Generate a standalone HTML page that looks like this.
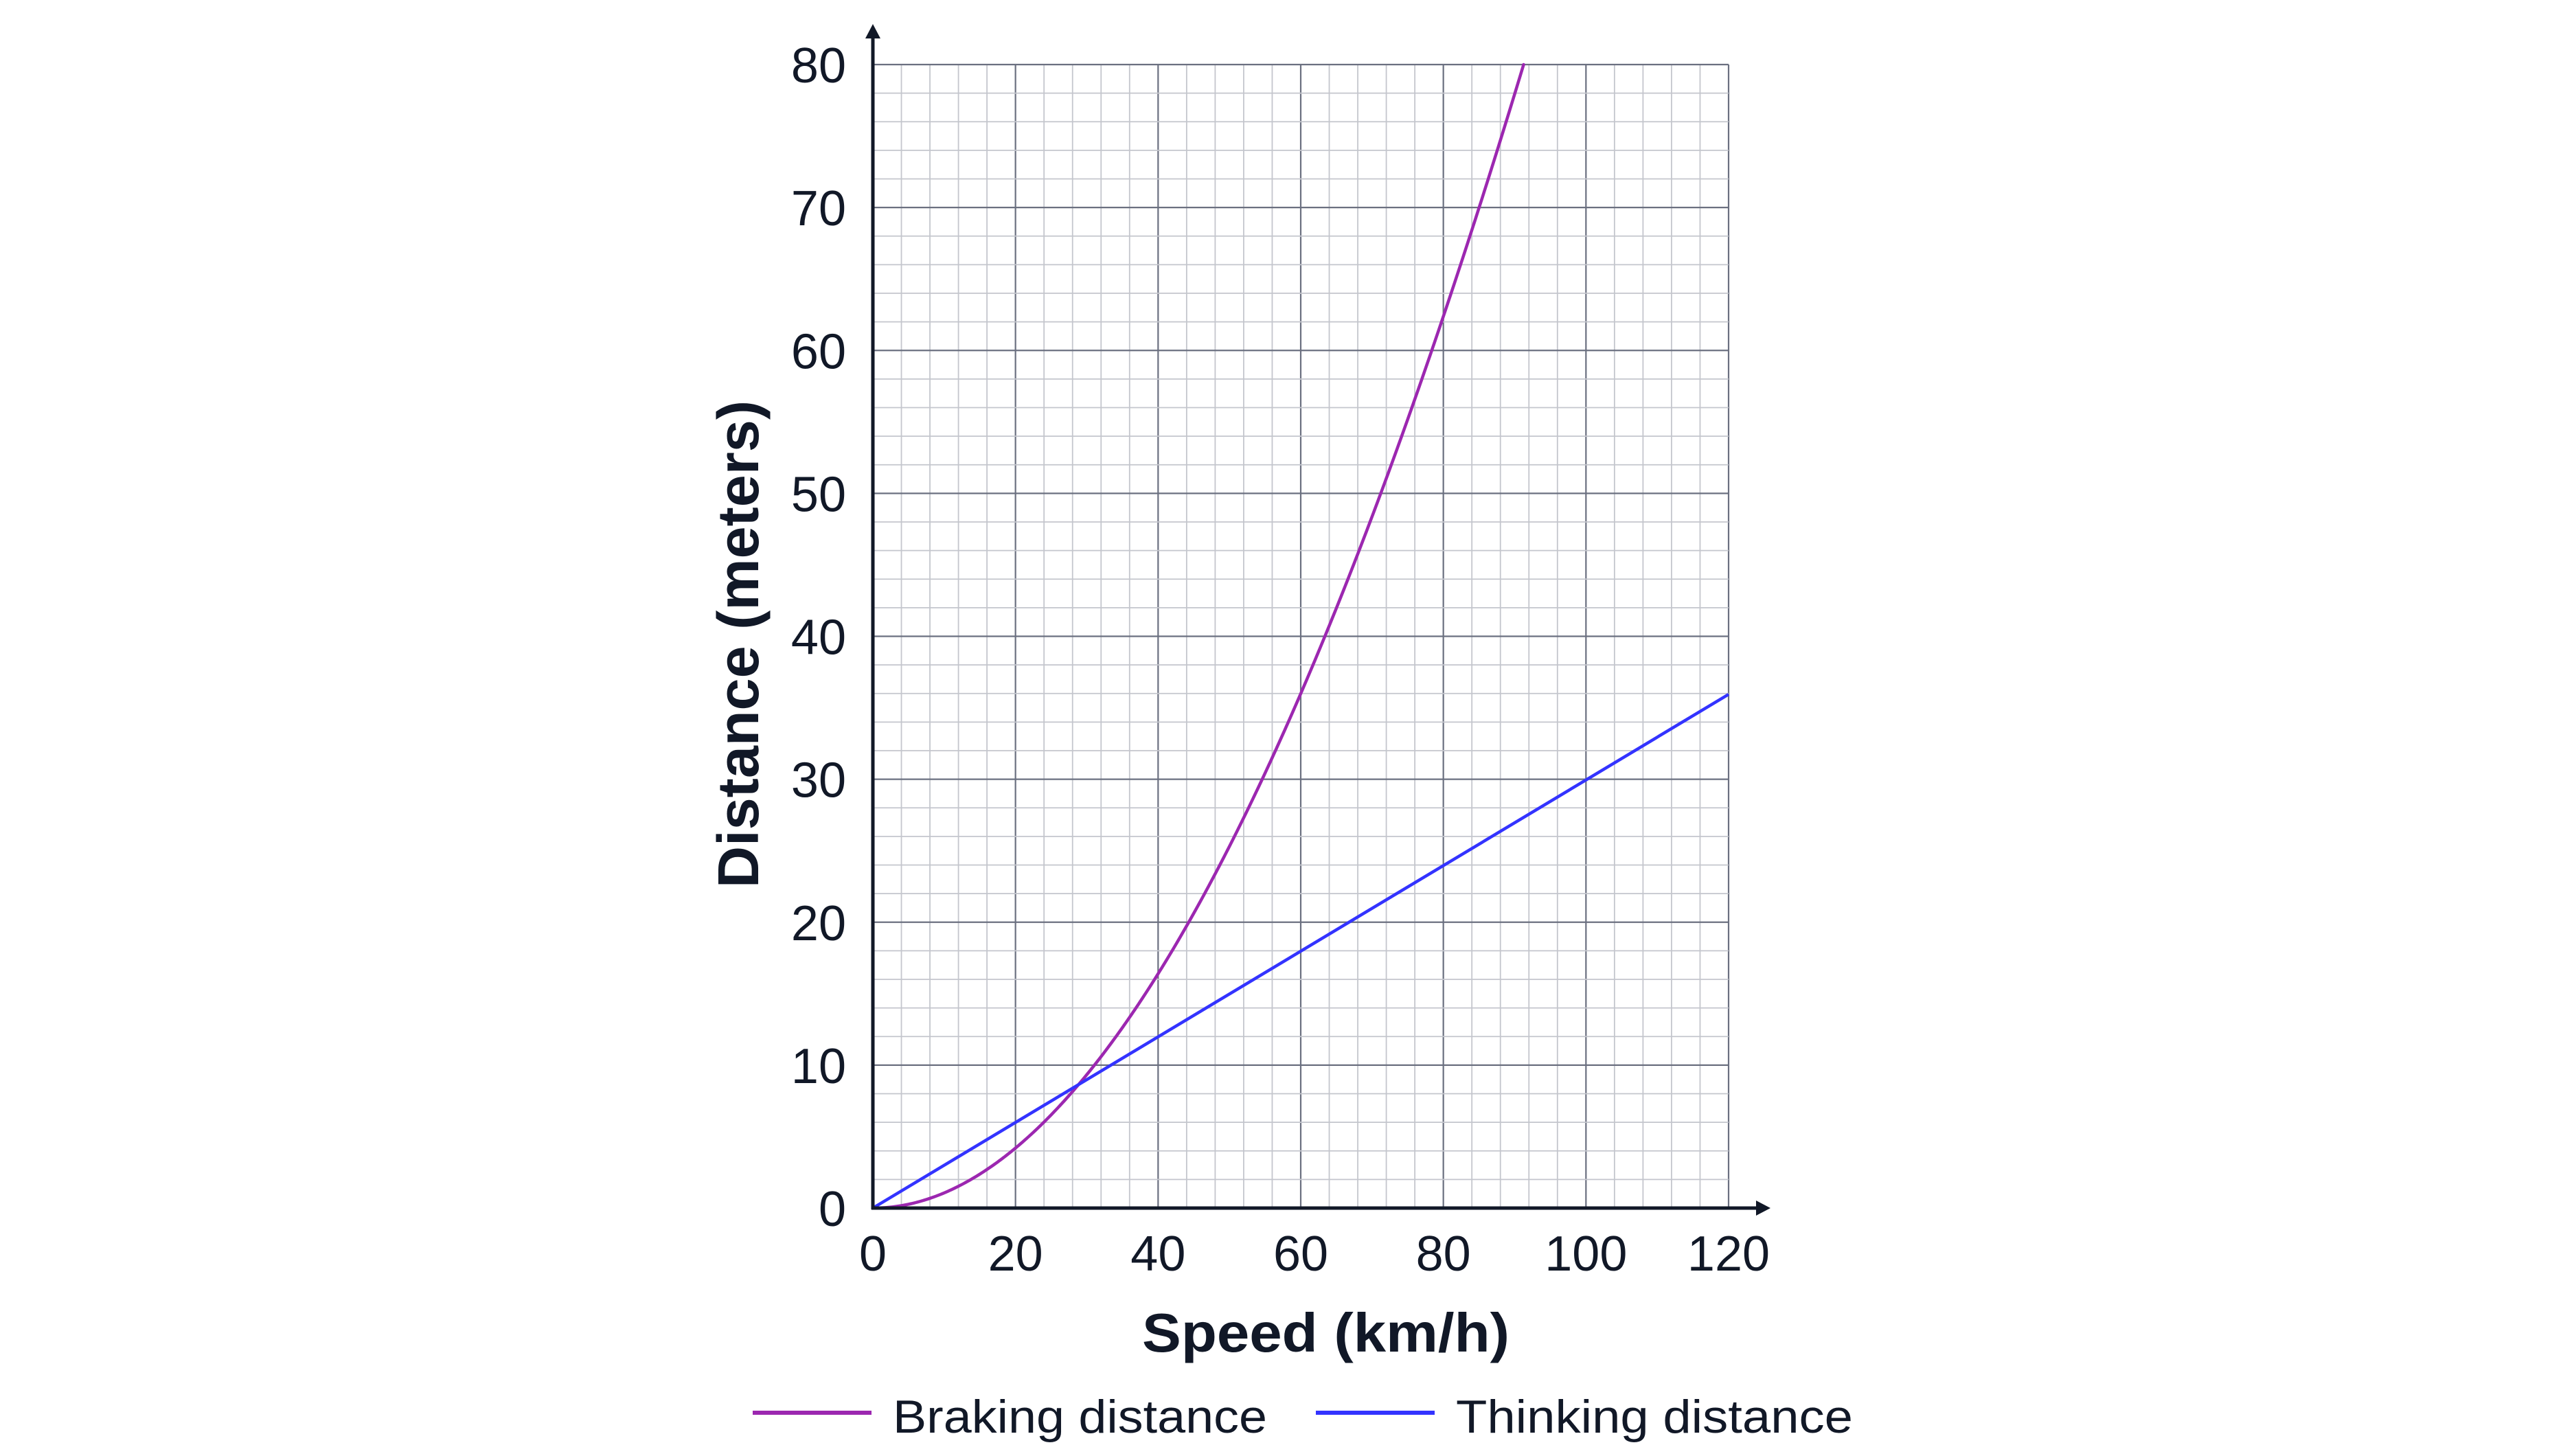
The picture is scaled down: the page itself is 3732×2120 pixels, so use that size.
<!DOCTYPE html>
<html><head><meta charset="utf-8"><style>html,body{margin:0;padding:0;background:#fff}svg{display:block}</style></head>
<body>
<svg id="s" width="3732" height="2120" viewBox="0 0 3732 2120" xmlns="http://www.w3.org/2000/svg" font-family="Liberation Sans, sans-serif" fill="#111827">
<g id="grid"></g>
<path id="brake" fill="none" stroke="#9c27b0" stroke-width="4.5" stroke-linecap="round"/>
<line x1="1271" y1="1759" x2="2517" y2="1011" stroke="#3333ff" stroke-width="4.5"/>
<line x1="1271" y1="1761" x2="1271" y2="50" stroke="#111827" stroke-width="5"/>
<polygon points="1271,35 1260,56 1282,56" fill="#111827"/>
<line x1="1269" y1="1759" x2="2562" y2="1759" stroke="#111827" stroke-width="5"/>
<polygon points="2578,1759 2557,1748 2557,1770" fill="#111827"/>
<g font-size="72" text-anchor="end" id="yl"></g>
<g font-size="72" text-anchor="middle" id="xl"></g>
<text x="1663" y="1968" font-size="80" font-weight="bold" textLength="535" lengthAdjust="spacingAndGlyphs">Speed (km/h)</text>
<text transform="translate(1104,1293) rotate(-90)" font-size="84" font-weight="bold" textLength="710" lengthAdjust="spacingAndGlyphs">Distance (meters)</text>
<line x1="1096" y1="2057" x2="1269" y2="2057" stroke="#9c27b0" stroke-width="6"/>
<text x="1300" y="2086" font-size="68" textLength="545" lengthAdjust="spacingAndGlyphs">Braking distance</text>
<line x1="1916" y1="2057" x2="2089" y2="2057" stroke="#3333ff" stroke-width="6"/>
<text x="2120" y="2086" font-size="68" textLength="578" lengthAdjust="spacingAndGlyphs">Thinking distance</text>
</svg>
<script>
var NS="http://www.w3.org/2000/svg";
var X=function(v){return 1271+v*1246/120};
var Y=function(d){return 1759-d*1665/80};
var g=document.getElementById("grid");
function ln(x1,y1,x2,y2,c,w){var l=document.createElementNS(NS,"line");l.setAttribute("x1",x1);l.setAttribute("y1",y1);l.setAttribute("x2",x2);l.setAttribute("y2",y2);l.setAttribute("stroke",c);l.setAttribute("stroke-width",w);g.appendChild(l);}
for(var i=0;i<=30;i++){var v=i*4;var maj=(v%20==0);ln(X(v),Y(0),X(v),Y(80),maj?"#6b7080":"#c4c6cd",maj?2.2:1.8);}
for(var j=0;j<=40;j++){var d=j*2;var maj=(d%10==0);ln(X(0),Y(d),X(120),Y(d),maj?"#6b7080":"#c4c6cd",maj?2.2:1.8);}
var yl=document.getElementById("yl");
for(var d=0;d<=80;d+=10){var t=document.createElementNS(NS,"text");t.setAttribute("x",1232);t.setAttribute("y",Y(d)+26);t.textContent=d;yl.appendChild(t);}
var xl=document.getElementById("xl");
for(var v=0;v<=120;v+=20){var t=document.createElementNS(NS,"text");t.setAttribute("x",X(v));t.setAttribute("y",1850);t.textContent=v;xl.appendChild(t);}
function f(v){return 0.010747*v*v-1.25e-5*v*v*v;}
var s="";
for(var v=0;v<=95;v+=0.25){var d=f(v);if(d>80){break;}s+=(s?" L":"M")+X(v).toFixed(2)+","+Y(d).toFixed(2);}
var lo=85,hi=95;for(var k=0;k<40;k++){var m=(lo+hi)/2;if(f(m)<80)lo=m;else hi=m;}
s+=" L"+X(lo).toFixed(2)+","+Y(80).toFixed(2);
document.getElementById("brake").setAttribute("d",s);
</script>
</body></html>
